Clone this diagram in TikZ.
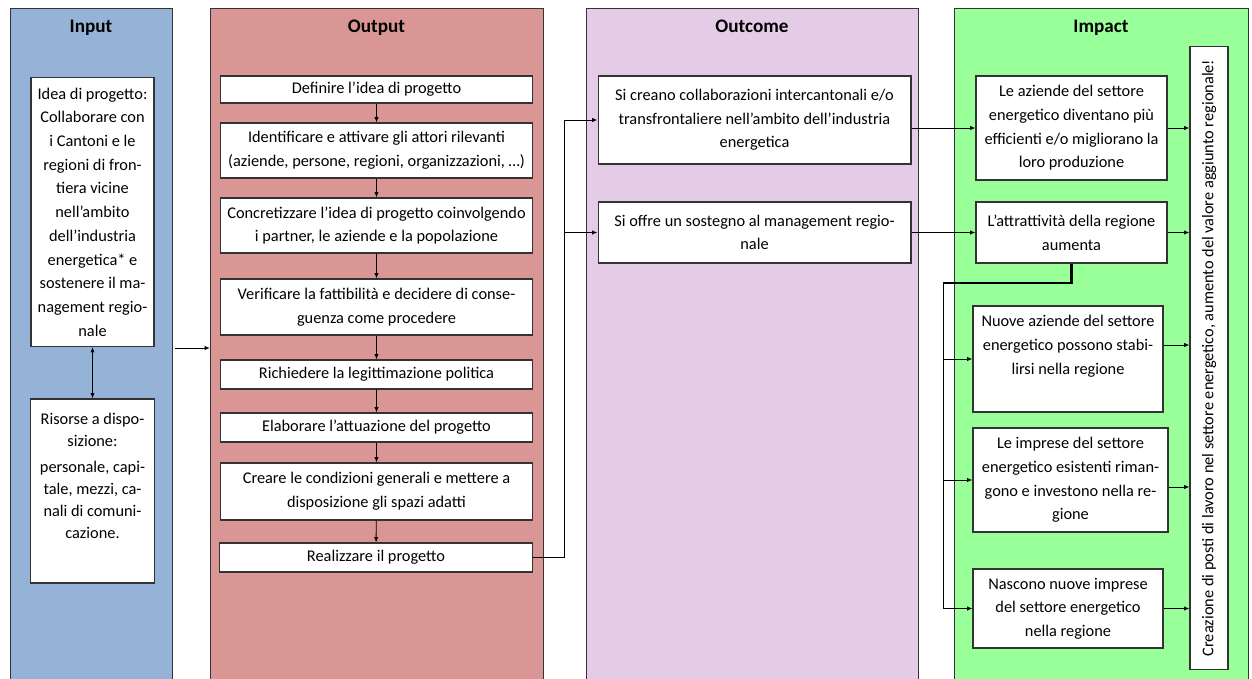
\documentclass[tikz,border=0pt]{standalone}
\usepackage{fontspec}
\setmainfont{Carlito}
\usetikzlibrary{arrows.meta}

\definecolor{inblue}{RGB}{149,179,215}
\definecolor{outred}{RGB}{217,150,148}
\definecolor{ocpurple}{RGB}{229,204,230}
\definecolor{imgreen}{RGB}{153,255,153}

\tikzset{
  panel/.style={draw=black!80, line width=0.6pt, anchor=north west, minimum height=13.7cm},
  title/.style={anchor=base, font=\fontsize{10.9}{13}\selectfont\bfseries},
  box/.style={draw=black!80, line width=0.6pt, fill=white, align=center, inner sep=1pt,
    font=\fontsize{9.3}{13.5}\selectfont},
  arr/.style={-{Latex[length=3pt,width=2.4pt]}, line width=0.5pt},
}

\begin{document}
\begin{tikzpicture}[x=0.02cm, y=-0.02cm]
    \useasboundingbox (0,0) rectangle (1252,679);

    % the four columns
    \node[panel, fill=inblue,   minimum width=3.24cm] (pin)  at (10,8) {};
    \node[panel, fill=outred,   minimum width=6.66cm] (pout) at (210,8) {};
    \node[panel, fill=ocpurple, minimum width=6.64cm] (poc)  at (586,8) {};
    \node[panel, fill=imgreen,  minimum width=5.88cm] (pimp) at (954,8) {};

    \node[title] (tin)  at (91,33)    {Input};
    \node[title] (tout) at (376.5,33) {Output};
    \node[title] (toc)  at (752,33)   {Outcome};
    \node[title] (timp) at (1101,33)  {Impact};

    % input
    \node[box, minimum width=2.46cm, minimum height=5.38cm] (in1) at (92.5,212)
        {Idea di progetto:\\Collaborare con\\i Cantoni e le\\regioni di fron-\\tiera vicine\\nell’ambito\\dell’industria\\energetica* e\\sostenere il ma-\\nagement regio-\\nale};
    \node[box, minimum width=2.46cm, minimum height=3.68cm] (in2) at (92.5,491)
        {\parbox[c][3.12cm][t]{2.4cm}{\fontsize{9.3}{12.6}\selectfont\centering
         Risorse a dispo-\\sizione:\\[2pt]personale, capi-\\tale, mezzi, ca-\\nali di comuni-\\cazione.}};
    \draw[{Latex[length=3pt,width=2.4pt]}-{Latex[length=3pt,width=2.4pt]}, line width=0.7pt] (in1) -- (in2);

    \coordinate (inout) at (175,348);
    \draw[arr] (inout) -- (inout -| pout.west);

    % output
    \node[box, minimum width=6.26cm, minimum height=0.54cm] (out1) at (376.5,89.5) {Definire l’idea di progetto};
    \node[box, minimum width=6.26cm, minimum height=1.1cm]  (out2) at (376.5,150.5)
        {Identificare e attivare gli attori rilevanti\\(aziende, persone, regioni, organizzazioni, …)};
    \node[box, minimum width=6.26cm, minimum height=1.1cm]  (out3) at (376.5,225.5)
        {Concretizzare l’idea di progetto coinvolgendo\\i partner, le aziende e la popolazione};
    \node[box, minimum width=6.26cm, minimum height=1.12cm] (out4) at (376.5,307)
        {Verificare la fattibilità e decidere di conse-\\guenza come procedere};
    \node[box, minimum width=6.26cm, minimum height=0.58cm] (out5) at (376.5,374.5) {Richiedere la legittimazione politica};
    \node[box, minimum width=6.26cm, minimum height=0.58cm] (out6) at (376.5,427.5) {Elaborare l’attuazione del progetto};
    \node[box, minimum width=6.26cm, minimum height=1.14cm] (out7) at (376.5,491.5)
        {Creare le condizioni generali e mettere a\\disposizione gli spazi adatti};
    \node[box, minimum width=6.28cm, minimum height=0.58cm] (out8) at (376,557.5) {Realizzare il progetto};

    \foreach \a/\b in {out1/out2, out2/out3, out3/out4, out4/out5, out5/out6, out6/out7, out7/out8}
        \draw[arr] (\a) -- (\b);

    % outcome
    \node[box, minimum width=6.26cm, minimum height=1.76cm] (oc1) at (754.5,120)
        {Si creano collaborazioni intercantonali e/o\\transfrontaliere nell’ambito dell’industria\\energetica};
    \node[box, minimum width=6.26cm, minimum height=1.22cm] (oc2) at (754.5,232.5)
        {Si offre un sostegno al management regio-\\nale};

    \draw[arr] (out8.east) -- ++(31,0) coordinate (junc) |- (oc1.west);
    \draw[arr] (junc) |- (oc2.west);

    % impact
    \node[box, minimum width=3.82cm, minimum height=2.08cm] (im1) at (1071.5,128)
        {Le aziende del settore\\energetico diventano più\\efficienti e/o migliorano la\\loro produzione};
    \node[box, minimum width=3.82cm, minimum height=1.22cm] (im2) at (1071.5,232.5)
        {L’attrattività della regione\\aumenta};
    \node[box, minimum width=3.8cm, minimum height=2.12cm] (im3) at (1068,359)
        {\parbox[c][1.74cm][t]{3.7cm}{\centering Nuove aziende del settore\\energetico possono stabi-\\lirsi nella regione}};
    \node[box, minimum width=3.9cm, minimum height=2.08cm] (im4) at (1070.5,480)
        {Le imprese del settore\\energetico esistenti riman-\\gono e investono nella re-\\gione};
    \node[box, minimum width=3.8cm, minimum height=1.58cm] (im5) at (1068,608.5)
        {Nascono nuove imprese\\del settore energetico\\nella regione};

    \node[box, rotate=90, minimum width=12.48cm, minimum height=0.76cm] (vert) at (1209,358)
        {Creazione di posti di lavoro nel settore energetico, aumento del valore aggiunto regionale!};

    \draw[arr] (oc1.east |- im1.west) -- (im1.west);
    \draw[arr] (oc2.east) -- (im2.west);

    \coordinate (hub) at (943,283);
    \draw[line width=1.4pt] (im2.south) |- (hub);
    \draw[arr] (hub) |- (im5.west);
    \draw[arr] (hub |- im3.west) -- (im3.west);
    \draw[arr] (hub |- im4.west) -- (im4.west);

    \draw[arr] (im1.east) -- (im1.east -| vert.north);
    \draw[arr] (im2.east) -- (im2.east -| vert.north);
    \draw[arr] ([yshift=0.28cm]im3.east) -- ([yshift=0.28cm]im3.east -| vert.north);
    \draw[arr] ([yshift=-0.14cm]im4.east) -- ([yshift=-0.14cm]im4.east -| vert.north);
    \draw[arr] (im5.east) -- (im5.east -| vert.north);
\end{tikzpicture}
\end{document}
